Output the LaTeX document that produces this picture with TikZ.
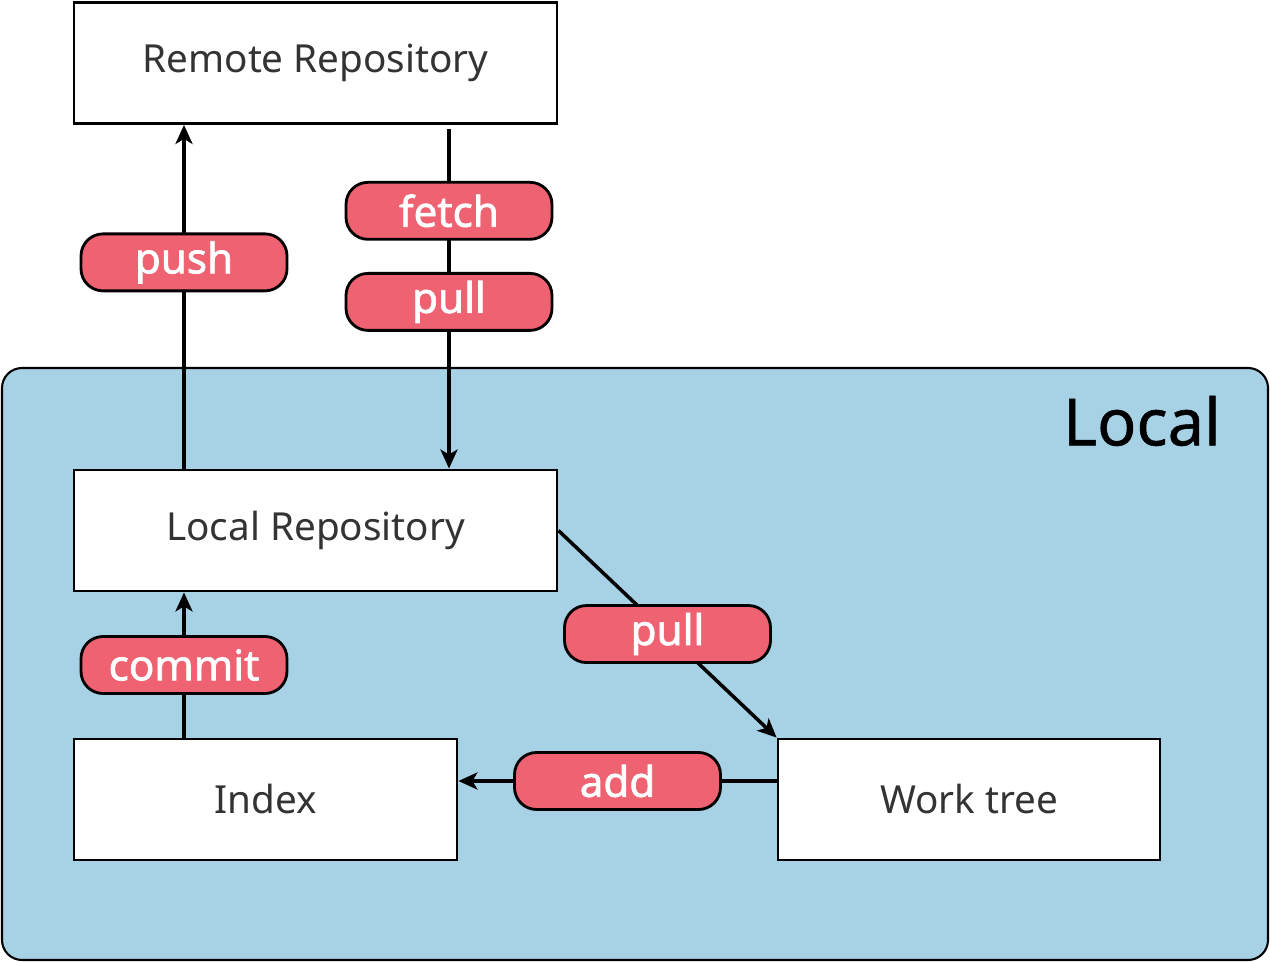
\documentclass[tikz,border=0pt]{standalone}
\usepackage{fontspec}
\setmainfont{Noto Sans}
\newfontfamily\tagfont[FakeBold=1.6]{Noto Sans}
\newfontfamily\titlefont[FakeBold=0.8]{Noto Sans}
\usetikzlibrary{arrows, arrows.meta, positioning}
\definecolor{localblue}{HTML}{A7D2E5}
\definecolor{tagred}{HTML}{EE6272}
\definecolor{boxtext}{HTML}{333333}
\tikzset{
    %Define standard arrow tip
    >={Stealth[length=0.19cm, width=0.17cm, inset=0.05cm]},
}

\begin{document}
\begin{tikzpicture}[
    repo/.style = {draw, line width=0.8pt, fill=white, text=boxtext,
                   font=\fontsize{11}{13}\selectfont,
                   minimum height=1.21cm, inner sep=0pt},
    tag/.style = {draw, line width=0.8pt, fill=tagred, text=white,
                  rounded corners=0.22cm, font=\tagfont\fontsize{12}{14}\selectfont,
                  minimum width=2.06cm, minimum height=0.57cm, inner sep=0pt},
    flow/.style = {line width=1pt},
  ]
  \useasboundingbox (0,0) rectangle (12.7,-9.62);
  \node[draw, line width=0.6pt, fill=localblue, rounded corners=0.2cm,
        minimum width=12.66cm, minimum height=5.92cm] (local) at (6.35,-6.64) {};
  \node[font=\titlefont\fontsize{18.5}{20}\selectfont] (local-title) at (11.42,-4.21) {Local};

  \node[repo, minimum width=4.83cm] (remote) at (3.155,-0.63) {Remote Repository};
  \node[repo, minimum width=4.83cm] (lrepo) at (3.155,-5.305) {Local Repository};
  \node[repo, minimum width=3.83cm] (index) at (2.655,-7.995) {Index};
  \node[repo, minimum width=3.82cm] (work) at (9.69,-7.995) {Work tree};

  \coordinate (push-x) at (1.84,0);
  \coordinate (fetch-x) at (4.49,0);
  \coordinate (add-y) at (0,-7.81);

  \draw[->, flow] (lrepo.north -| push-x) -- node[tag, pos=0.6] (push) {push} (remote.south -| push-x);
  \draw[->, flow, shorten <=0.04cm] (remote.south -| fetch-x)
      -- node[tag, pos=0.25] (fetch) {fetch}
         node[tag, pos=0.515] (pull1) {pull} (lrepo.north -| fetch-x);
  \draw[->, flow] (lrepo.east) -- node[tag] (pull2) {pull} (work.north west);
  \draw[->, flow] (index.north -| push-x) -- node[tag] (commit) {commit} (lrepo.south -| push-x);
  \draw[->, flow] (work.west |- add-y) -- node[tag] (add) {add} (index.east |- add-y);
\end{tikzpicture}
\end{document}
